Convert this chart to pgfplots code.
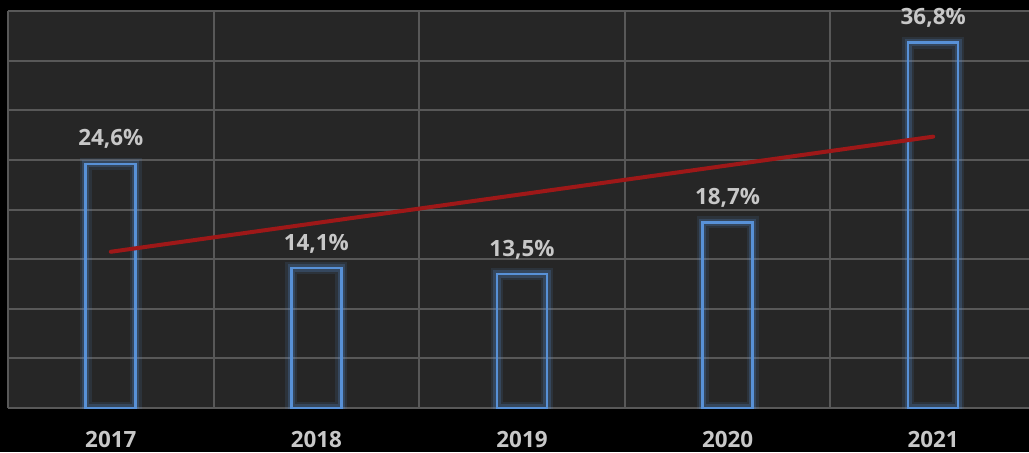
\documentclass[border=0pt]{standalone}
\usepackage{pgfplots}
\pgfplotsset{compat=1.18}
\usepackage{fontspec}
\setmainfont{Open Sans}

\definecolor{plotbg}{RGB}{38,38,38}
\definecolor{gridgray}{RGB}{88,88,88}
\definecolor{labelgray}{RGB}{200,200,200}
\definecolor{barblue}{RGB}{88,145,215}
\definecolor{trendred}{RGB}{158,24,24}

\begin{document}
\begin{tikzpicture}
% 1 px = 0.5 pt
\fill[black] (0,0) rectangle (514.5pt,226pt);
\useasboundingbox (0,0) rectangle (514.5pt,226pt);
\begin{axis}[
  at={(4pt,22pt)}, anchor=south west,
  width=510.5pt, height=198.5pt, scale only axis,
  xmin=-0.5, xmax=4.466, ymin=0, ymax=40,
  xtick={0,...,4}, xticklabels={2017,2018,2019,2020,2021},
  minor xtick={-0.5,0.5,...,3.5},
  ytick={0,5,...,40}, yticklabels={},
  ymajorgrids, xminorgrids,
  grid style={color=gridgray, line width=1pt},
  minor grid style={color=gridgray, line width=1pt},
  major tick length=0pt, minor tick length=0pt,
  axis line style={draw=none},
  axis background/.style={fill=plotbg},
  xticklabel style={font=\bfseries\fontsize{11.2}{13}\selectfont, text=labelgray,
    anchor=base, yshift=-19.5pt},
  /pgf/number format/assume math mode=true,
]
% glow layers
\addplot[ybar, bar width=25pt, bar shift=0pt, draw=barblue, draw opacity=0.12, line width=6pt, fill=none]
  coordinates {(0,24.6) (1,14.1) (2,13.5) (3,18.7) (4,36.8)};
\addplot[ybar, bar width=25pt, bar shift=0pt, draw=barblue, draw opacity=0.22, line width=3.6pt, fill=none]
  coordinates {(0,24.6) (1,14.1) (2,13.5) (3,18.7) (4,36.8)};
% bars with labels
\addplot[ybar, bar width=25pt, bar shift=0pt, draw=barblue, line width=1.3pt, fill=none,
  nodes near coords={\pgfmathprintnumber[fixed, fixed zerofill, precision=1, use comma]{\pgfplotspointmeta}\%},
  every node near coord/.append style={font=\bfseries\fontsize{11.2}{13}\selectfont,
    text=labelgray, anchor=base, yshift=9pt}]
  coordinates {(0,24.6) (1,14.1) (2,13.5) (3,18.7) (4,36.8)};
% linear trend
\addplot[sharp plot, no marks, color=trendred, line width=2pt, line cap=round]
  coordinates {(0,15.74) (1,18.64) (2,21.54) (3,24.44) (4,27.34)};
\end{axis}
\end{tikzpicture}
\end{document}
